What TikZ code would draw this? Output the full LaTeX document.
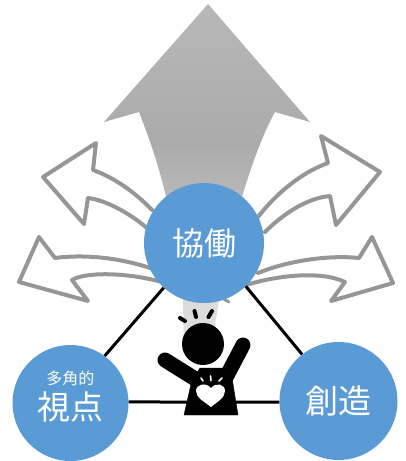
\documentclass[tikz,border=0pt]{standalone}
\usepackage{fontspec}
\setmainfont{Noto Sans CJK JP}
\usetikzlibrary{calc}
\definecolor{circleblue}{HTML}{5B9BD5}
\definecolor{outlinegray}{HTML}{969696}
\pgfdeclareverticalshading{bigarrowshade}{100bp}{
  color(0bp)=(black!12);
  color(25bp)=(black!12);
  color(35bp)=(black!15);
  color(46bp)=(black!27);
  color(55bp)=(black!33);
  color(75bp)=(black!28);
  color(100bp)=(black!28)}
\tikzset{
  hub/.style={circle,fill=circleblue,text=white,inner sep=0pt,align=center},
  outlinearrow/.style={draw=outlinegray,line width=4pt,line join=round,line cap=round},
  linkline/.style={draw=black,line width=3pt},
  personpart/.style={fill=black,draw=black,line join=round},
  limb/.style={draw=black,line width=15pt,line cap=round},
  dashmark/.style={draw=black,line width=4pt,line cap=round},
  sparkmark/.style={draw=white,line width=1.6pt,line cap=round}
}
\begin{document}
\begin{tikzpicture}[x=1pt,y=-1pt]
\useasboundingbox (0,0) rectangle (406,461);
% big arrow with stem
\path[shading=bigarrowshade] (208,4) -- (310,122) -- (275,112)
  .. controls (262,135) and (250,170) .. (242,197)
  -- (219,300) -- (215,325) -- (212,350) -- (184,350) -- (183,300) -- (166,197)
  .. controls (160,170) and (150,140) .. (139,112)
  -- (104,122) -- cycle;
% outline arrows
\draw[outlinearrow] (152,210) .. controls (135,192) and (113,177) .. (93,170)
  -- (96,143) -- (43,177) -- (84,224) -- (88,198)
  .. controls (105,200) and (128,212) .. (147,228);
\draw[outlinearrow] (150,268) .. controls (120,258) and (85,254) .. (55,258)
  -- (39,237) -- (19,282) -- (88,301) -- (72,280)
  .. controls (85,272) and (125,272) .. (162,282);
\draw[outlinearrow] (258,217) .. controls (275,195) and (300,173) .. (328,163)
  -- (321,136) -- (380,172) -- (336,225) -- (330,196)
  .. controls (305,198) and (280,217) .. (265,232);
\draw[outlinearrow] (258,273) .. controls (290,260) and (330,255) .. (359,258)
  -- (372,237) -- (393,283) -- (331,301) -- (345,282)
  .. controls (320,270) and (275,276) .. (246,285);
\draw[outlinegray,line width=3pt,line cap=round] (222,298) -- (229,302);
% hubs
\node[hub,minimum size=120pt] (kyodo) at (204,243) {\fontsize{32}{36}\selectfont 協働};
\node[hub,minimum size=116pt] (shiten) at (70.5,403) {{\fontsize{16}{18}\selectfont 多角的}\\[5pt]{\fontsize{33}{36}\selectfont 視点}\\[3pt]};
\node[hub,minimum size=118pt] (sozo) at (338.5,401) {\fontsize{33}{36}\selectfont 創造};
% connectors
\draw[linkline] (kyodo.228) -- (shiten.54);
\draw[linkline] (kyodo.314) -- (sozo.128);
\draw[linkline] (shiten.1) -- (sozo.181);
% person
\fill[black] (203,344) circle[radius=21];
\draw[limb] (165,360) -- (205,385);
\draw[limb] (243,345) -- (222,385);
\fill[personpart] (184,415) -- (192,380) -- (200,368) -- (225,368) -- (232,378) -- (238,415) -- cycle;
\draw[dashmark] (180,318) -- (185,321);
\draw[dashmark] (194.5,311) -- (196,317);
\draw[dashmark] (212,311) -- (208.5,317);
% heart
\fill[white] (211,407) .. controls (205,402) and (196,398) .. (196,391)
  .. controls (196,384) and (206,382) .. (211,388)
  .. controls (216,382) and (225,384) .. (225,391)
  .. controls (225,398) and (217,402) .. (211,407) -- cycle;
\draw[sparkmark] (201,378) -- (203,381);
\draw[sparkmark] (210.5,376) -- (211,380.5);
\draw[sparkmark] (222,378) -- (219,381);
\end{tikzpicture}
\end{document}
